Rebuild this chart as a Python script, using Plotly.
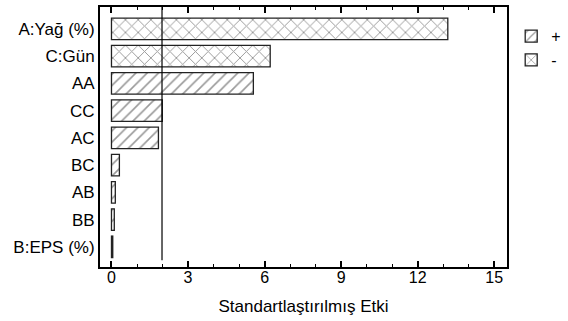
import plotly.graph_objects as go

categories = ["A:Yağ (%)", "C:Gün", "AA", "CC", "AC", "BC", "AB", "BB", "B:EPS (%)"]
effects = [13.18, 6.22, 5.56, 1.99, 1.84, 0.31, 0.15, 0.11, 0.05]
signs = ["-", "-", "+", "+", "+", "+", "+", "+", "+"]
critical_value = 1.98
x_ticks = [0, 3, 6, 9, 12, 15]

FONT = "Liberation Sans, Arial, sans-serif"

fig = go.Figure()
for sign, shape in [("+", "/"), ("-", "x")]:
    ys = [c for c, s in zip(categories, signs) if s == sign]
    xs = [v for v, s in zip(effects, signs) if s == sign]
    fig.add_trace(go.Bar(
        x=xs, y=ys, orientation="h", name=sign, width=0.79,
        marker=dict(
            color="white",
            line=dict(color="#222222", width=1.3),
            pattern=dict(shape=shape, fgcolor="#333333", bgcolor="white",
                         size=9 if shape == "x" else 8, solidity=0.2),
        ),
    ))

fig.add_shape(type="line", xref="x", yref="paper",
              x0=critical_value, x1=critical_value, y0=0.026, y1=1,
              line=dict(color="black", width=1.2))

fig.update_layout(
    width=568, height=321,
    margin=dict(l=100, r=61, t=7, b=54, autoexpand=False),
    paper_bgcolor="white", plot_bgcolor="white",
    font=dict(family=FONT, color="black", size=16),
    barmode="overlay",
    showlegend=True,
    legend=dict(xref="container", yref="container", x=0.9, y=0.94,
                xanchor="left", yanchor="top",
                font=dict(size=16, family=FONT), bgcolor="rgba(0,0,0,0)",
                tracegroupgap=2),
    xaxis=dict(
        range=[-0.45, 15.5], tickvals=x_ticks, ticks="inside", ticklen=6,
        tickwidth=1.5, tickcolor="black", showline=True, linewidth=2,
        linecolor="black", mirror="allticks", showgrid=False, zeroline=False,
        tickfont=dict(size=16, family=FONT), automargin=False,
        ticklabelstandoff=-5,
        minor=dict(dtick=1, ticks="inside", ticklen=3, tickcolor="black", tickwidth=1.2, showgrid=False),
        title=dict(text="Standartlaştırılmış Etki", font=dict(size=17, family=FONT), standoff=15),
    ),
    yaxis=dict(
        categoryorder="array", categoryarray=categories,
        range=[8.74, -0.8], showline=True, linewidth=2, linecolor="black",
        mirror=True, ticks="", showgrid=False, zeroline=False, automargin=False,
        tickfont=dict(size=17, family=FONT),
    ),
)

fig.write_html("out.html", config={"displayModeBar": False},
               post_script="document.body.style.margin='0';document.body.style.padding='0';")
